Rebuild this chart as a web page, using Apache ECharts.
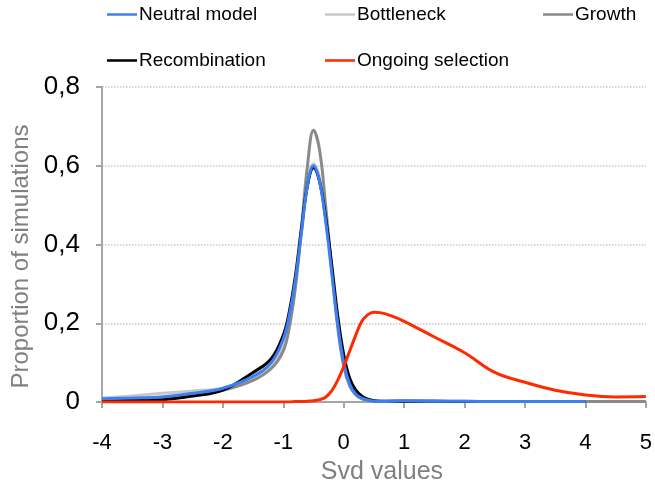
<!DOCTYPE html>
<html>
<head>
<meta charset="utf-8">
<script src="https://cdn.jsdelivr.net/npm/echarts@6/dist/echarts.min.js"></script>
<style>
  html, body { margin: 0; padding: 0; background: #fff; }
  #chart { width: 655px; height: 490px; }
</style>
</head>
<body>
<div id="chart"></div>
<script>
// x positions (Svd values) shared by every curve
var xs = [-4, -3.5, -3, -2.5, -2, -1.5, -1.2, -1, -0.9, -0.8, -0.7, -0.6, -0.5, -0.4, -0.3, -0.2, -0.1, 0, 0.1, 0.2, 0.3, 0.4, 0.5, 0.6, 0.8, 1, 1.5, 2, 2.5, 3, 3.5, 4, 4.5, 5];

var neutral = [0.008, 0.010, 0.013, 0.022, 0.035, 0.065, 0.100, 0.160, 0.220, 0.310, 0.430, 0.550, 0.600, 0.560, 0.460, 0.330, 0.200, 0.100, 0.045, 0.020, 0.010, 0.005, 0.002, 0.001, 0.002, 0.003, 0.002, 0.002, 0.001, 0.001, 0.001, 0.001, null, null];
var bottleneck = [0.010, 0.015, 0.022, 0.028, 0.035, 0.060, 0.090, 0.140, 0.200, 0.300, 0.430, 0.550, 0.605, 0.570, 0.470, 0.340, 0.200, 0.100, 0.045, 0.020, 0.010, 0.005, 0.002, 0.001, 0.002, 0.002, 0.002, 0.001, 0.001, 0.001, 0.001, 0.001, 0.001, 0.001];
var growth = [0.005, 0.008, 0.012, 0.020, 0.030, 0.055, 0.085, 0.130, 0.190, 0.290, 0.440, 0.600, 0.690, 0.640, 0.500, 0.340, 0.190, 0.090, 0.040, 0.018, 0.008, 0.004, 0.002, 0.002, 0.002, 0.002, 0.002, 0.002, 0.001, 0.001, 0.001, 0.001, 0.001, 0.001];
var recombination = [0.004, 0.004, 0.006, 0.015, 0.030, 0.075, 0.110, 0.170, 0.230, 0.320, 0.440, 0.550, 0.595, 0.560, 0.470, 0.350, 0.220, 0.120, 0.060, 0.030, 0.015, 0.007, 0.003, 0.002, 0.002, 0.002, 0.002, 0.001, 0.001, 0.001, 0.001, 0.001, null, null];
var ongoing = [0, 0, 0, 0, 0, 0, 0, 0, 0, 0.001, 0.001, 0.002, 0.003, 0.006, 0.012, 0.028, 0.055, 0.090, 0.130, 0.170, 0.205, 0.222, 0.228, 0.227, 0.218, 0.205, 0.165, 0.125, 0.075, 0.050, 0.030, 0.018, 0.013, 0.014];

var names = ['Neutral model', 'Bottleneck', 'Growth', 'Recombination', 'Ongoing selection'];
var colors = ['#3b7ff2', '#c8c8c8', '#8a8a8a', '#000000', '#ff2a00'];
var values = [neutral, bottleneck, growth, recombination, ongoing];
var zs = [5, 2, 3, 4, 6];

// legend slots (two rows)
var legendPos = [[107, 5], [325, 5], [543, 5], [107, 51], [325, 51]];

function pairs(ys) {
  var out = [];
  for (var i = 0; i < xs.length; i++) {
    if (ys[i] !== null) out.push([xs[i], ys[i]]);
  }
  return out;
}

var font = 'Liberation Sans, Arial, sans-serif';

var myEcharts = echarts.init(document.getElementById('chart'));
myEcharts.setOption({
  animation: false,
  textStyle: { fontFamily: font },
  legend: names.map(function (n, i) {
    return {
      data: [n],
      left: legendPos[i][0],
      top: legendPos[i][1],
      icon: 'rect',
      itemWidth: 30,
      itemHeight: 2.5,
      padding: 0,
      textStyle: { fontSize: 19, color: '#000', fontFamily: font, padding: [0, 0, 0, -3] }
    };
  }),
  grid: {
    left: 102,
    right: 8,
    top: 87,
    bottom: 87
  },
  xAxis: {
    type: 'value',
    min: -4,
    max: 5,
    interval: 1,
    name: 'Svd values',
    nameLocation: 'middle',
    nameGap: 58,
    nameTextStyle: { fontSize: 25, color: '#808080', fontFamily: font, padding: [0, 0, 0, 16] },
    axisLine: { show: true, onZero: false, lineStyle: { color: '#a6a6a6', width: 2 } },
    axisTick: { show: true, length: 6, lineStyle: { color: '#a6a6a6', width: 2 } },
    axisLabel: { fontSize: 22, color: '#000', margin: 30, fontFamily: font },
    splitLine: { show: false }
  },
  yAxis: {
    type: 'value',
    min: 0,
    max: 0.8,
    interval: 0.2,
    name: 'Proportion of simulations',
    nameLocation: 'middle',
    nameGap: 63,
    nameTextStyle: { fontSize: 24, color: '#808080', fontFamily: font, padding: [0, 24, 0, 0] },
    axisLine: { show: true, onZero: false, lineStyle: { color: '#a6a6a6', width: 2 } },
    axisTick: { show: true, length: 6, lineStyle: { color: '#a6a6a6', width: 2 } },
    axisLabel: {
      fontSize: 26,
      color: '#000',
      margin: 22,
      fontFamily: font,
      formatter: function (v) {
        return v === 0 ? '0' : v.toFixed(1).replace('.', ',');
      }
    },
    splitLine: { show: true, lineStyle: { color: '#c8c8c8', type: 'dotted', width: 1.5 } }
  },
  series: names.map(function (n, i) {
    return {
      name: n,
      type: 'line',
      smooth: 0.4,
      symbol: 'none',
      z: zs[i],
      data: pairs(values[i]),
      lineStyle: { color: colors[i], width: 3 },
      itemStyle: { color: colors[i] }
    };
  })
});
</script>
</body>
</html>
